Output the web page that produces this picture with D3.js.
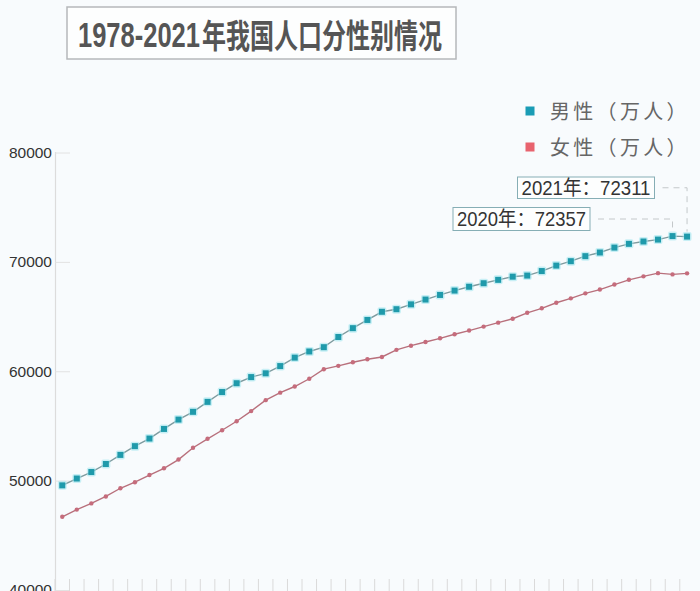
<!DOCTYPE html>
<html><head><meta charset="utf-8">
<script src="https://cdn.jsdelivr.net/npm/d3@7"></script>
<style>
html,body{margin:0;padding:0;background:#f8fbfd;}
svg{display:block;}
</style></head>
<body>
<script>
const years = d3.range(1978, 2022).map(String);
const male = [49567,50192,50785,51519,52352,53152,53848,54725,55581,56290,57201,58099,58904,59466,59811,60472,61246,61808,62200,63131,63940,64692,65437,65672,66115,66556,66976,67375,67728,68048,68357,68647,68748,69161,69660,70063,70522,70857,71307,71650,71864,72039,72357,72311];
const female = [46692,47350,47920,48553,49302,49856,50509,51126,51926,53010,53825,54605,55429,56357,57360,58045,58604,59313,60189,60495,60821,61094,61306,61955,62338,62671,63012,63381,63720,64081,64445,64803,65343,65755,66262,66663,67124,67469,67925,68361,68677,68969,68855,68949];
const yTicks = [40000,50000,60000,70000,80000];
const seriesNames = ["男性（万人）","女性（万人）"];
const titleParts = ["1978-2021", "年我国人口分性别情况"];
const callouts = [{year:"2021", label:"2021年：72311"},{year:"2020", label:"2020年：72357"}];

const W = 700, H = 591;
const svg = d3.select("body").append("svg").attr("width", W).attr("height", H);
svg.append("rect").attr("width", W).attr("height", H).attr("fill", "#f8fbfd");

const x = d3.scaleBand().domain(years).range([55, 55 + 44 * 14.53]);
const y = d3.scaleLinear().domain([40000, 80000]).range([590, 152.5]);
const cx = d => x(d) + x.bandwidth() / 2;

const LAT = "'Liberation Sans', Arial, 'Noto Sans CJK SC', sans-serif";
const CJK = "'Noto Sans CJK SC', sans-serif";

// fit a text horizontally to a target width
function fitText(sel, ax, by, target, anchor) {
  sel.attr("text-anchor", anchor).attr("transform", `translate(${ax},${by})`);
  const w = sel.node().getComputedTextLength();
  sel.attr("transform", `translate(${ax},${by}) scale(${target / w},1)`);
}

// title
svg.append("rect").attr("x", 67).attr("y", 7).attr("width", 389).attr("height", 52)
  .attr("fill", "#fdfefe").attr("stroke", "#b5b8ba").attr("stroke-width", 1.5);
const t1 = svg.append("text").attr("font-family", LAT).attr("font-weight", "bold")
  .attr("font-size", 35).attr("fill", "#555").text(titleParts[0]);
fitText(t1, 78, 47, 122, "start");
const t2 = svg.append("text").attr("font-family", CJK).attr("font-weight", "bold")
  .attr("font-size", 33).attr("fill", "#555").text(titleParts[1]);
fitText(t2, 202, 47.5, 240, "start");

// y axis
svg.append("line").attr("x1", 55.5).attr("x2", 55.5).attr("y1", 152).attr("y2", 591)
  .attr("stroke", "#dcdcdc").attr("stroke-width", 1.2);
const yAxis = svg.append("g").attr("transform", "translate(55,0)")
  .call(d3.axisRight(y).tickValues(yTicks).tickSize(15).tickFormat(d3.format("d")));
yAxis.select(".domain").remove();
yAxis.selectAll(".tick line").attr("stroke", "#e2e2e2");
yAxis.selectAll(".tick text").attr("x", -3).attr("text-anchor", "end")
  .attr("font-family", LAT).attr("font-size", 15.5).attr("fill", "#333");

// x axis ticks (band boundaries)
const xAxis = svg.append("g").attr("transform", "translate(0,591)")
  .call(d3.axisTop(x).tickSize(12).tickFormat(""));
xAxis.select(".domain").remove();
xAxis.selectAll(".tick line").attr("stroke", "#dadada").attr("transform", `translate(${-x.bandwidth()/2},0)`);

// lines
const line = vals => d3.line().x((d, i) => cx(years[i])).y(d => y(d))(vals);
svg.append("path").attr("d", line(female)).attr("fill", "none").attr("stroke", "#b8707c").attr("stroke-width", 1.4);
svg.append("path").attr("d", line(male)).attr("fill", "none").attr("stroke", "#7e9b9f").attr("stroke-width", 1.4);

svg.append("g").selectAll("circle").data(female).join("circle")
  .attr("cx", (d, i) => cx(years[i])).attr("cy", d => y(d)).attr("r", 2.2)
  .attr("fill", "#c56c7c");
const mg = svg.append("g");
mg.selectAll("rect.h").data(male).join("rect").attr("class", "h")
  .attr("x", (d, i) => cx(years[i]) - 4.5).attr("y", d => y(d) - 4.5)
  .attr("width", 9).attr("height", 9).attr("rx", 2).attr("fill", "#9fe6ee").attr("opacity", 0.55);
mg.selectAll("rect.m").data(male).join("rect").attr("class", "m")
  .attr("x", (d, i) => cx(years[i]) - 3).attr("y", d => y(d) - 3)
  .attr("width", 6).attr("height", 6).attr("fill", "#1f9aab");

// callouts
const boxes = [
  {x: 517.5, y: 177, w: 137, h: 21.5},
  {x: 453, y: 207.5, w: 137, h: 23}
];
callouts.forEach((c, k) => {
  const b = boxes[k];
  const px = cx(c.year);
  const py = y(male[years.indexOf(c.year)]);
  const ly = b.y + b.h / 2;
  svg.append("path").attr("d", `M${b.x + b.w + 8},${ly}H${px}V${py - 5}`)
    .attr("fill", "none").attr("stroke", "#c4c8ca").attr("stroke-width", 1).attr("stroke-dasharray", "6,5");
  svg.append("rect").attr("x", b.x).attr("y", b.y).attr("width", b.w).attr("height", b.h)
    .attr("fill", "#fdfefe").attr("stroke", "#86aeb5").attr("stroke-width", 1);
  const t = svg.append("text").attr("font-family", LAT).attr("font-size", 20)
    .attr("fill", "#333").text(c.label);
  fitText(t, b.x + b.w / 2, ly + 7, 129, "middle");
});

// legend
const legColors = ["#1a9cb5", "#e8636e"];
seriesNames.forEach((n, i) => {
  const ly = 111 + i * 36;
  svg.append("rect").attr("x", 525.5).attr("y", ly - 4.5).attr("width", 9).attr("height", 9).attr("fill", legColors[i]);
  svg.append("text").attr("x", 550).attr("y", ly + 7.5).attr("font-family", CJK)
    .attr("font-size", 20).attr("letter-spacing", 3.3).attr("fill", "#666").text(n);
});
</script>
</body></html>
